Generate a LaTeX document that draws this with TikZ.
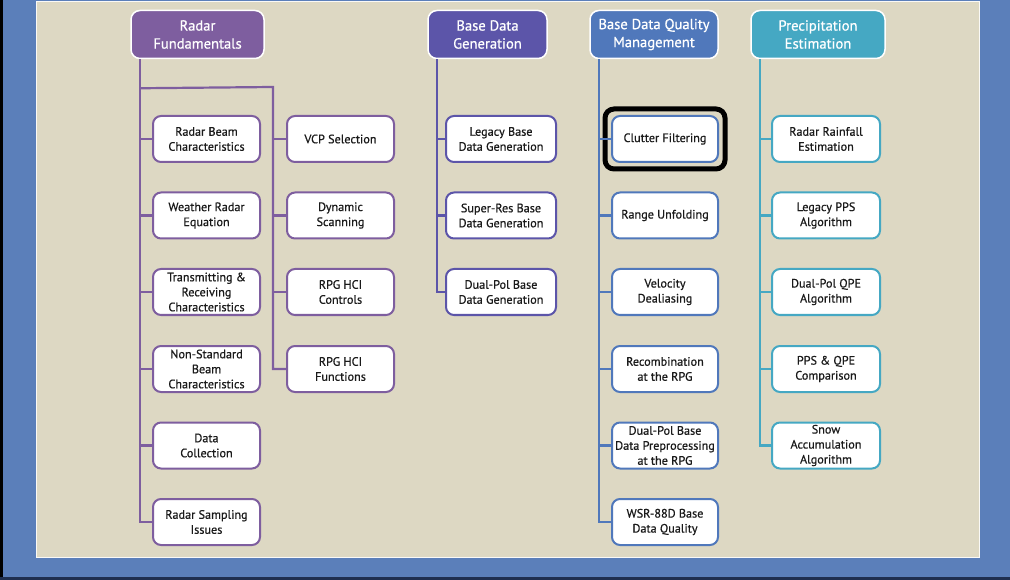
\documentclass[tikz,border=0pt]{standalone}
\usepackage{fontspec}
\setmainfont{PT Sans}
\newfontfamily\semibfam{PT Sans}[FakeBold=0.6]
\usetikzlibrary{calc}
\definecolor{outerblue}{HTML}{5B7FBA}
\definecolor{beige}{HTML}{DDD8C3}
\definecolor{rfc}{HTML}{7E5E9F}
\definecolor{bdgc}{HTML}{5C55A9}
\definecolor{bdqc}{HTML}{5078BB}
\definecolor{pec}{HTML}{45A8C3}
\definecolor{textc}{HTML}{1A1A1A}
\definecolor{navy}{HTML}{1F2F50}
\newcommand{\childfnt}{\semibfam\fontsize{12.2}{15}\selectfont}
\newcommand{\headfnt}{\semibfam\fontsize{14.6}{18}\selectfont}
\tikzset{
  childbox/.style={draw=#1, line width=2pt, fill=white, rounded corners=8pt,
    minimum width=107pt, minimum height=46pt, align=center, font=\childfnt,
    text=textc, inner sep=0.5pt},
  headbox/.style={fill=#1, draw=white, line width=1.5pt, rounded corners=9pt,
    minimum height=48pt, align=center, text=white, font=\headfnt, inner sep=1pt},
  link/.style={draw=#1, line width=2.2pt}
}
\begin{document}
\begin{tikzpicture}[x=1pt,y=-1pt]
\useasboundingbox (0,0) rectangle (1010,580);
\fill[outerblue] (0,0) rectangle (1010,580);
\fill[black] (0,0) rectangle (3,580);
\fill[navy] (0,577) rectangle (1010,580);
\fill[beige, draw=white!85!beige, line width=1pt] (36,2) rectangle (979,557);

% headers
\node[headbox=rfc, minimum width=133pt] (rf) at (197.5,34.5) {Radar\\Fundamentals};
\node[headbox=bdgc, minimum width=119pt] (bdg) at (487.5,34.5) {Base Data\\Generation};
\node[headbox=bdqc, minimum width=128pt] (bdq) at (654,34.5) {Base Data Quality\\Management};
\node[headbox=pec, minimum width=134pt] (pe) at (818,34.5) {Precipitation\\Estimation};

% Radar Fundamentals column A
\node[childbox=rfc] (a1) at (206.5,139) {Radar Beam\\Characteristics};
\node[childbox=rfc] (a2) at (206.5,215.5) {Weather Radar\\Equation};
\node[childbox=rfc] (a3) at (206.5,292) {Transmitting \&\\Receiving\\Characteristics};
\node[childbox=rfc] (a4) at (206.5,369) {Non-Standard\\Beam\\Characteristics};
\node[childbox=rfc] (a5) at (206.5,445.5) {Data\\Collection};
\node[childbox=rfc] (a6) at (206.5,522) {Radar Sampling\\Issues};
% column B
\node[childbox=rfc] (b1) at (340.5,139) {VCP Selection};
\node[childbox=rfc] (b2) at (340.5,215.5) {Dynamic\\Scanning};
\node[childbox=rfc] (b3) at (340.5,292) {RPG HCI\\Controls};
\node[childbox=rfc] (b4) at (340.5,369) {RPG HCI\\Functions};
% Base Data Generation
\node[childbox=bdgc, minimum width=110pt] (g1) at (501,139) {Legacy Base\\Data Generation};
\node[childbox=bdgc, minimum width=110pt] (g2) at (501,215.5) {Super-Res Base\\Data Generation};
\node[childbox=bdgc, minimum width=110pt] (g3) at (501,292) {Dual-Pol Base\\Data Generation};
% Base Data Quality Management
\node[childbox=bdqc, minimum width=106pt] (q1) at (665,139) {Clutter Filtering};
\node[childbox=bdqc, minimum width=106pt] (q2) at (665,215.5) {Range Unfolding};
\node[childbox=bdqc, minimum width=106pt] (q3) at (665,292) {Velocity\\Dealiasing};
\node[childbox=bdqc, minimum width=106pt] (q4) at (665,369) {Recombination\\at the RPG};
\node[childbox=bdqc, minimum width=106pt] (q5) at (665,445.5) {Dual-Pol Base\\Data Preprocessing\\at the RPG};
\node[childbox=bdqc, minimum width=106pt] (q6) at (665,522) {WSR-88D Base\\Data Quality};
% Precipitation Estimation
\node[childbox=pec, minimum width=108pt] (p1) at (826,139) {Radar Rainfall\\Estimation};
\node[childbox=pec, minimum width=108pt] (p2) at (826,215.5) {Legacy PPS\\Algorithm};
\node[childbox=pec, minimum width=108pt] (p3) at (826,292) {Dual-Pol QPE\\Algorithm};
\node[childbox=pec, minimum width=108pt] (p4) at (826,369) {PPS \& QPE\\Comparison};
\node[childbox=pec, minimum width=108pt] (p5) at (826,445.5) {Snow\\Accumulation\\Algorithm};

% highlight
\draw[black, line width=5pt, rounded corners=9pt]
  ([xshift=-6pt,yshift=6pt]q1.north west) rectangle ([xshift=6pt,yshift=-6pt]q1.south east);

% connectors: Radar Fundamentals
\coordinate (rfv) at ([xshift=10pt]rf.south west);
\coordinate (rfj) at ($(rfv)+(0,29)$);
\coordinate (rfk) at (273,87);
\draw[link=rfc] (rfv) |- (a6.west);
\foreach \n in {a1,a2,a3,a4,a5} \draw[link=rfc] (\n.west) -- (\n.west -| rfv);
\draw[link=rfc] (rfj) -- (rfk) |- (b4.west);
\foreach \n in {b1,b2,b3} \draw[link=rfc] (\n.west) -- (\n.west -| rfk);
% Base Data Generation
\coordinate (bdgv) at ([xshift=10pt]bdg.south west);
\draw[link=bdgc] (bdgv) |- (g3.west);
\foreach \n in {g1,g2} \draw[link=bdgc] (\n.west) -- (\n.west -| bdgv);
% Base Data Quality
\coordinate (bdqv) at ([xshift=10pt]bdq.south west);
\draw[link=bdqc] (bdqv) |- (q6.west);
\foreach \n in {q1,q2,q3,q4,q5} \draw[link=bdqc] (\n.west) -- (\n.west -| bdqv);
% Precipitation
\coordinate (pev) at ([xshift=10pt]pe.south west);
\draw[link=pec] (pev) |- (p5.west);
\foreach \n in {p1,p2,p3,p4} \draw[link=pec] (\n.west) -- (\n.west -| pev);
\end{tikzpicture}
\end{document}
